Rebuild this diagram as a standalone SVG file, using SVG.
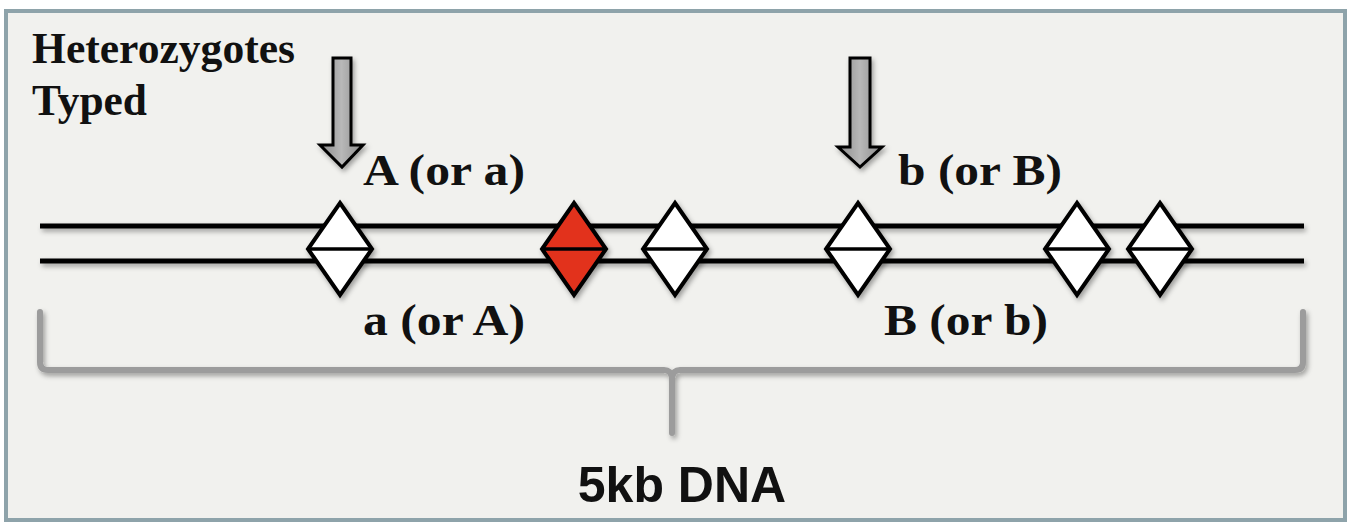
<svg xmlns="http://www.w3.org/2000/svg" width="1351" height="527" viewBox="0 0 1351 527">
<defs>
<filter id="sh" x="-30%" y="-30%" width="160%" height="160%"><feDropShadow dx="2" dy="3" stdDeviation="2.5" flood-color="#000" flood-opacity="0.35"/></filter>
<linearGradient id="ag" x1="0" x2="1" y1="0" y2="0"><stop offset="0" stop-color="#8a8a8a"/><stop offset="0.5" stop-color="#b8b8b8"/><stop offset="1" stop-color="#8a8a8a"/></linearGradient>
</defs>
<style>
.lbl{font-family:"Liberation Serif","Times New Roman",serif;font-weight:bold;font-size:45px;fill:#111}
.big{font-family:"Liberation Sans",Arial,sans-serif;font-weight:bold;font-size:50px;fill:#111}
.strand{stroke:#000;stroke-width:5;fill:none}
.dia{fill:#fff;stroke:#000;stroke-width:4;stroke-linejoin:miter}
.red{fill:#e2301f}
.div{stroke:#000;stroke-width:3.5}
.arrow{fill:url(#ag);stroke:#000;stroke-width:3;stroke-linejoin:miter}
.brace{fill:none;stroke:#9c9c9c;stroke-width:6;stroke-linejoin:round;stroke-linecap:round}
</style>
<rect x="0" y="0" width="1351" height="527" fill="#ffffff"/>
<rect x="6" y="11" width="1339" height="509" fill="#f1f1ee" stroke="#8ea3aa" stroke-width="4"/>

<g id="title"><text class="lbl" x="32" y="63" textLength="263" lengthAdjust="spacingAndGlyphs">Heterozygotes</text><text class="lbl" x="32" y="115" textLength="115" lengthAdjust="spacingAndGlyphs">Typed</text></g>

<g id="connectors">
<g filter="url(#sh)">
<line class="strand" x1="40" y1="226" x2="1304" y2="226"/>
<line class="strand" x1="40" y1="261" x2="1304" y2="261"/>
</g>
<path class="brace" filter="url(#sh)" d="M40,312 V362 Q40,370 48,370 H664 Q671,370 672,378 L672,433 M672,378 Q673,370 680,370 H1295 Q1303,370 1303,362 V312"/>
</g>

<g id="arrow1" filter="url(#sh)"><path class="arrow" d="M333,58 H351 V145 H363 L342,167 L320,145 H333 Z"/></g>
<g id="arrow2" filter="url(#sh)"><path class="arrow" d="M850,58 H870 V147 H882 L860,167 L838,147 H850 Z"/></g>

<g id="labelA"><text class="lbl" x="363" y="185" textLength="162" lengthAdjust="spacingAndGlyphs">A (or a)</text></g>
<g id="labelb"><text class="lbl" x="898" y="185" textLength="164" lengthAdjust="spacingAndGlyphs">b (or B)</text></g>
<g id="labela"><text class="lbl" x="363" y="335" textLength="162" lengthAdjust="spacingAndGlyphs">a (or A)</text></g>
<g id="labelB"><text class="lbl" x="884" y="335" textLength="164" lengthAdjust="spacingAndGlyphs">B (or b)</text></g>

<g id="snp1" filter="url(#sh)"><path class="dia" d="M340,203 L372,249 L340,295 L308,249 Z"/><line class="div" x1="308" y1="249" x2="372" y2="249"/></g>
<g id="snp2" filter="url(#sh)"><path class="dia red" d="M574,203 L606,249 L574,295 L542,249 Z"/><line class="div" x1="542" y1="249" x2="606" y2="249"/></g>
<g id="snp3" filter="url(#sh)"><path class="dia" d="M675,203 L707,249 L675,295 L643,249 Z"/><line class="div" x1="643" y1="249" x2="707" y2="249"/></g>
<g id="snp4" filter="url(#sh)"><path class="dia" d="M858,203 L890,249 L858,295 L826,249 Z"/><line class="div" x1="826" y1="249" x2="890" y2="249"/></g>
<g id="snp5" filter="url(#sh)"><path class="dia" d="M1077,203 L1109,249 L1077,295 L1045,249 Z"/><line class="div" x1="1045" y1="249" x2="1109" y2="249"/></g>
<g id="snp6" filter="url(#sh)"><path class="dia" d="M1160,203 L1192,249 L1160,295 L1128,249 Z"/><line class="div" x1="1128" y1="249" x2="1192" y2="249"/></g>

<g id="caption"><text class="big" x="682" y="502" text-anchor="middle">5kb DNA</text></g>
</svg>
